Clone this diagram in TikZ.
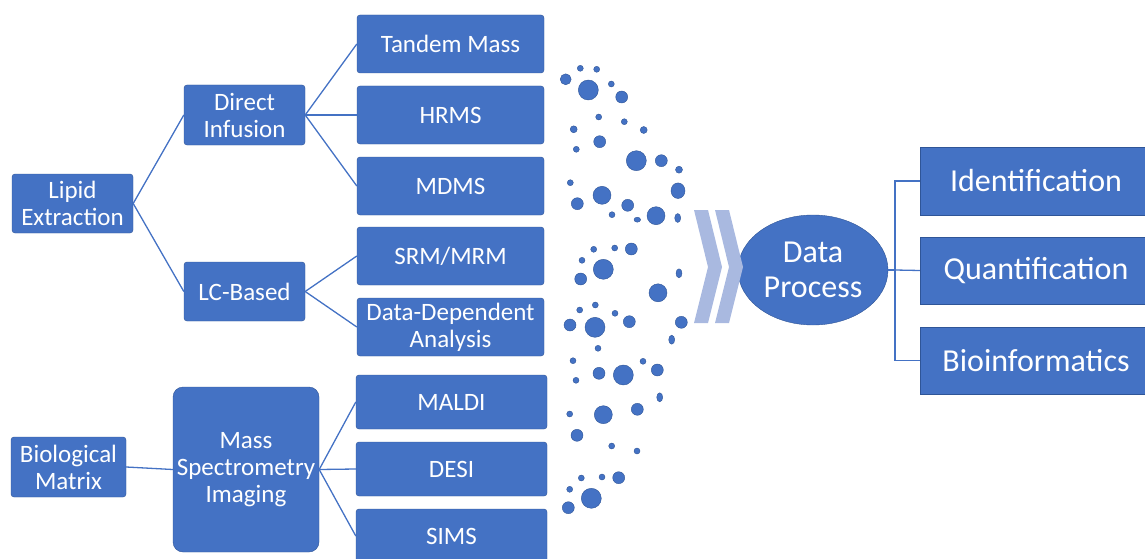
\documentclass[tikz,border=0pt]{standalone}
\usepackage{fontspec}
\setmainfont{Carlito}
\usetikzlibrary{shapes.geometric}

\definecolor{boxblue}{HTML}{4472C4}
\definecolor{edgeblue}{HTML}{2F5597}
\definecolor{chevblue}{HTML}{A9B9E0}

\begin{document}
\begin{tikzpicture}[x=1pt,y=-1pt]

      \useasboundingbox (0,0) rectangle (1145,559);
      \clip (0,0) rectangle (1145,559);

      % Nodes
      \begin{scope}[every node/.style={rectangle,rounded corners=3pt,fill=boxblue,draw=edgeblue,
          text=white,align=center,inner sep=0pt,font=\fontsize{25}{27}\selectfont}]
        \node[minimum width=121,minimum height=59] (lipid) at (72.5,203.5) {Lipid\\Extraction};
        \node[minimum width=121,minimum height=60] (direct) at (244.5,115) {Direct\\Infusion};
        \node[minimum width=121,minimum height=59] (lc) at (244.5,291.5) {LC-Based};

        \node[minimum width=187,minimum height=58] (tandem) at (450.5,44) {Tandem Mass};
        \node[minimum width=187,minimum height=58] (hrms) at (450.5,115) {HRMS};
        \node[minimum width=187,minimum height=58] (mdms) at (450.5,186) {MDMS};
        \node[minimum width=187,minimum height=58] (srm) at (450.5,256) {SRM/MRM};
        \node[minimum width=187,minimum height=58] (dda) at (450.5,327) {Data-Dependent\\Analysis};

        \node[minimum width=115,minimum height=60] (bio) at (68.5,467) {Biological\\Matrix};
        \node[minimum width=146,minimum height=165,rounded corners=10pt] (msi) at (246,469.5) {Mass\\Spectrometry\\Imaging};

        \node[minimum width=191,minimum height=54] (maldi) at (451.5,402) {MALDI};
        \node[minimum width=191,minimum height=54] (desi) at (451.5,469) {DESI};
        \node[minimum width=191,minimum height=54] (sims) at (451.5,536) {SIMS};
      \end{scope}

      \begin{scope}[every node/.style={fill=boxblue,draw=edgeblue,text=white,align=center,
          inner sep=0pt,font=\fontsize{32}{35}\selectfont}]
        \node[ellipse,minimum width=150,minimum height=110] (data) at (813,270) {Data\\Process};
        \node[rectangle,minimum width=232,minimum height=68] (ident) at (1036,181) {Identification};
        \node[rectangle,minimum width=232,minimum height=67] (quant) at (1036,270.5) {Quantification};
        \node[rectangle,minimum width=232,minimum height=67] (bioinf) at (1036,360.5) {Bioinformatics};
      \end{scope}
      \coordinate (brk) at (895,270);

      % Edges
      \begin{scope}[every edge/.style={draw=boxblue,line width=1.3pt}]
        \path (lipid.east) edge (direct.west);
        \path (lipid.east) edge (lc.west);

        \path (direct.east) edge (tandem.west);
        \path (direct.east) edge (hrms.west);
        \path (direct.east) edge (mdms.west);

        \path (lc.east) edge (srm.west);
        \path (lc.east) edge (dda.west);

        \path (bio.east) edge (msi.west);
        \path (msi.east) edge (maldi.west);
        \path (msi.east) edge (desi.west);
        \path (msi.east) edge (sims.west);

        \path (data.east) edge (brk);
        \path (quant.west) edge (brk);
      \end{scope}
      \draw[boxblue,line width=1.3pt] (ident.west) -| (brk) |- (bioinf.west);

      % Chevrons
      \begin{scope}[every path/.style={fill=chevblue}]
        \path (694,210) -- (708,210) -- (722,267) -- (708,323) -- (694,323) -- (708,267) -- cycle;
        \path (715,210) -- (729,210) -- (743,267) -- (729,323) -- (715,323) -- (729,267) -- cycle;
      \end{scope}

      % Dots
      \begin{scope}[every path/.style={fill=boxblue,draw=edgeblue,line width=0.4pt}]
        \foreach \x/\y/\r in {565.7/79.3/5.5, 580.3/68.3/3, 596.7/69.3/3, 588.3/90/10, 611.3/84/3,
            621.7/97/6, 598.7/117/3, 624.3/121.7/3, 573.7/129.3/3.5, 643.7/130/3.5,
            599.7/141.7/6, 576.3/149.3/3, 636.3/160.7/10, 661.3/160.7/6, 679/169.7/3.5,
            570.3/182.7/3, 602/195.3/9, 577.3/203.7/6, 627.7/205.3/6, 612/214.7/3,
            656/215.7/9, 593.7/249.3/3, 614.7/248/3, 631.3/249/6, 582/260.3/3,
            603.3/269.3/10, 580.7/279/6, 658/292.8/9, 579.7/310/3, 595.3/305/3,
            615/313.3/3, 570/325/6, 595/327.3/10, 629.3/321.7/6, 681.3/322.3/6,
            598/348.3/3, 573/360.7/3, 643/361.3/3, 599/373.3/6, 623.3/375/10,
            657.3/370/6, 576/380.3/3, 569.7/414/3, 603.3/414.7/9, 637.3/409.3/6,
            577/435.3/6, 611.7/446/3, 637/451/3, 581.3/478/3, 602/477/3,
            618.7/477.7/6, 569.7/489.3/3, 591.3/498.3/10, 568.3/507.7/6}
          \path (\x,\y) circle[radius=\r];
        \foreach \x/\y/\rx/\ry in {678/190.7/7/7.8, 637.3/219.7/3.3/2.5, 677.7/218/3/4.5,
            679/273.3/3/4.5, 671.7/339.7/3/4.5, 659.7/397.3/3/4.5}
          \path (\x,\y) ellipse[x radius=\rx,y radius=\ry];
      \end{scope}

    \end{tikzpicture}
\end{document}
